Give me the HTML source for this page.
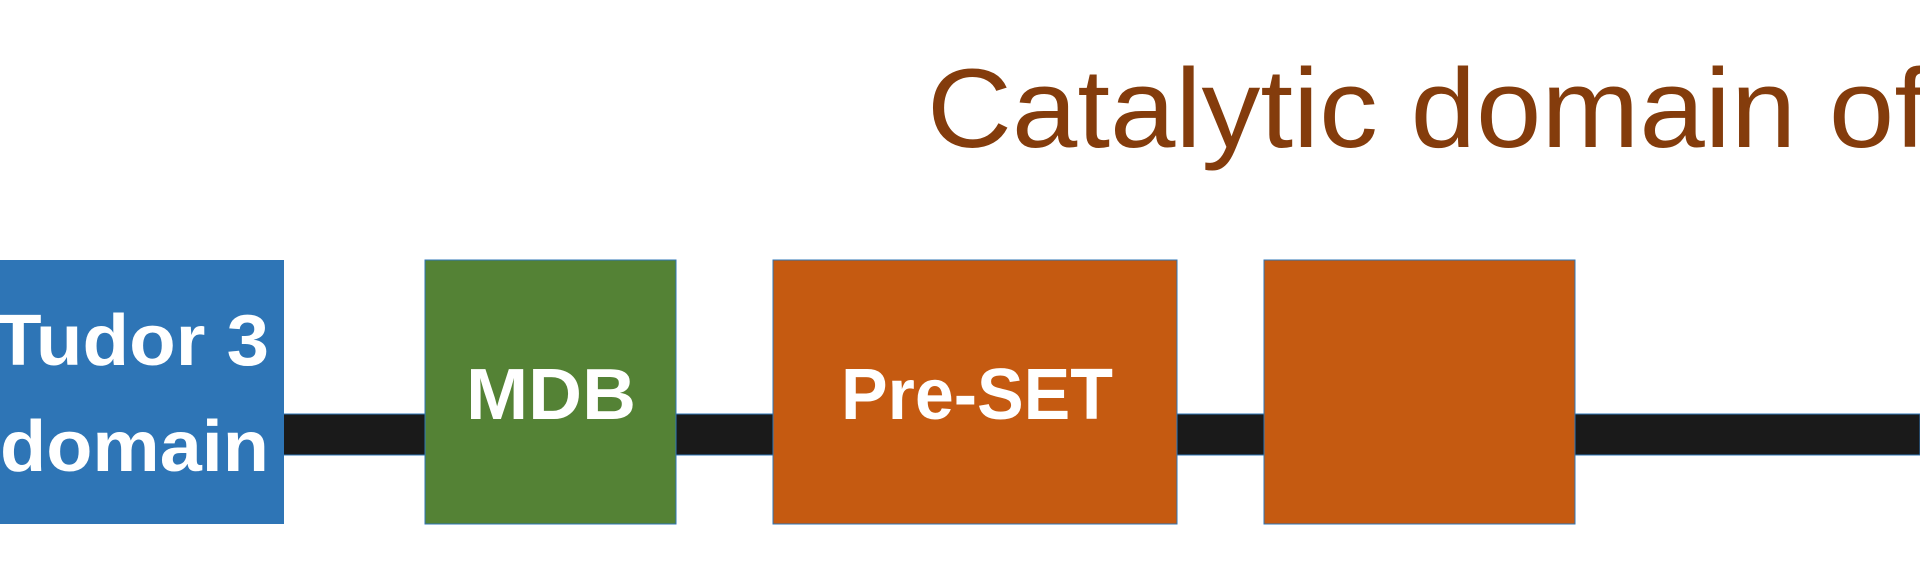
<!DOCTYPE html>
<html><head><meta charset="utf-8">
<style>
html,body{margin:0;padding:0;background:#fff;}
svg{display:block;}
</style></head>
<body>
<svg width="1920" height="568" viewBox="0 0 1920 568" xmlns="http://www.w3.org/2000/svg">
  <text x="927" y="147" font-family="Liberation Sans, sans-serif" font-size="112" fill="#843C0C" textLength="1000" lengthAdjust="spacingAndGlyphs">Catalytic domain of</text>
  <rect x="0" y="414" width="1920" height="41" fill="#1a1a1a" stroke="#2E75B6" stroke-width="1"/>
  <rect x="-10" y="260" width="294" height="264" fill="#2E75B6"/>
  <text x="269" y="365" text-anchor="end" font-family="Liberation Sans, sans-serif" font-weight="bold" font-size="72" fill="#fff" textLength="274" lengthAdjust="spacingAndGlyphs">Tudor 3</text>
  <text x="269" y="471" text-anchor="end" font-family="Liberation Sans, sans-serif" font-weight="bold" font-size="72" fill="#fff" textLength="269" lengthAdjust="spacingAndGlyphs">domain</text>
  <rect x="425" y="260" width="251" height="264" fill="#548235" stroke="#2E75B6" stroke-width="1"/>
  <text x="551" y="419" text-anchor="middle" font-family="Liberation Sans, sans-serif" font-weight="bold" font-size="72" fill="#fff" textLength="170" lengthAdjust="spacingAndGlyphs">MDB</text>
  <rect x="773" y="260" width="404" height="264" fill="#C55A11" stroke="#2E75B6" stroke-width="1"/>
  <text x="977" y="419" text-anchor="middle" font-family="Liberation Sans, sans-serif" font-weight="bold" font-size="72" fill="#fff" textLength="272" lengthAdjust="spacingAndGlyphs">Pre-SET</text>
  <rect x="1264" y="260" width="311" height="264" fill="#C55A11" stroke="#2E75B6" stroke-width="1"/>
</svg>
</body></html>
